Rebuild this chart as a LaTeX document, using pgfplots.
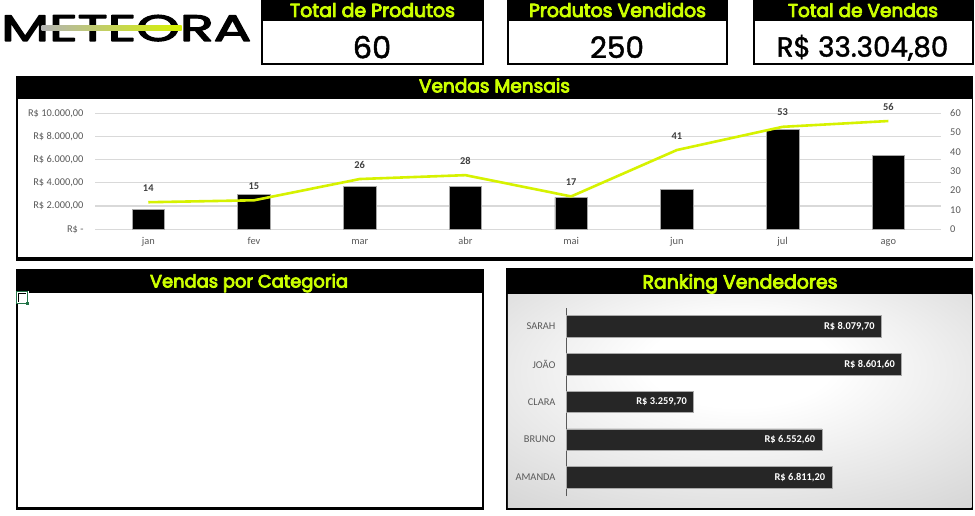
\documentclass[border=0pt]{standalone}
\usepackage{fontspec}
\setmainfont{Carlito}
\newfontfamily\pop{Poppins}
\newcommand\emb[2]{\special{pdf:literal direct #1 w 1 j 2 Tr}#2\special{pdf:literal direct 0 Tr}}
\usepackage{pgfplots}
\pgfplotsset{compat=1.18}
\definecolor{limetxt}{RGB}{204,255,0}
\definecolor{limeline}{RGB}{214,242,0}
\definecolor{tickgray}{RGB}{89,89,89}
\definecolor{gridgray}{RGB}{217,217,217}
\definecolor{lblgray}{RGB}{64,64,64}
\definecolor{rkbar}{RGB}{38,38,38}
\definecolor{rkedge}{RGB}{170,170,170}
\definecolor{rkmid}{RGB}{205,205,205}
\definecolor{rkout}{RGB}{178,178,178}
\definecolor{xlgreen}{RGB}{33,115,70}
\pgfdeclareradialshading{rk}{\pgfpoint{0bp}{10bp}}{color(0bp)=(white); color(10bp)=(white); color(45bp)=(rkmid); color(72bp)=(rkout)}
\newcommand\tlfont{\fontsize{10.4}{12}\selectfont}
\newcommand\hdr[1]{\color{limetxt}\pop\emb{0.45}{#1}}
\begin{document}
\begin{tikzpicture}[x=1pt,y=1pt]
\useasboundingbox (0,0) rectangle (975,516);
% ---------- logo
\node[anchor=base west, inner sep=0pt] at (1,475) {\resizebox{250pt}{26pt}{\pop\emb{0.3}{METEORA}}};
\shade[left color=gray!60, right color=limeline] (41.7,485.5) rectangle (181.7,490.5);
% ---------- KPI boxes
\foreach \xa/\xb in {261/483.7, 507/727.5, 753.3/973.5} {
  \fill[black] (\xa,451) rectangle (\xb,516);
  \fill[white] (\xa+1.5,453) rectangle (\xb-2,495.3);
}
\node[anchor=base, inner sep=0pt] at (372.5,499) {\resizebox{165pt}{!}{\hdr{Total de Produtos}}};
\node[anchor=base, inner sep=0pt] at (617.5,499) {\resizebox{177pt}{!}{\hdr{Produtos Vendidos}}};
\node[anchor=base, inner sep=0pt] at (863,499) {\resizebox{150pt}{!}{\hdr{Total de Vendas}}};
\node[anchor=base, inner sep=0pt] at (372,457.7) {\resizebox{38.3pt}{!}{\pop\emb{0.15}{60}}};
\node[anchor=base, inner sep=0pt] at (617,458) {\resizebox{54pt}{!}{\pop\emb{0.15}{250}}};
\node[anchor=base, inner sep=0pt] at (862.5,459.3) {\resizebox{171.6pt}{!}{\pop\emb{0.15}{R\$ 33.304,80}}};
% ---------- panel: Vendas Mensais
\fill[black] (16,255.3) rectangle (973.3,440);
\fill[white] (17.8,258.5) rectangle (971.5,417);
\node[anchor=base, inner sep=0pt] at (494.5,423.6) {\resizebox{151pt}{!}{\hdr{Vendas Mensais}}};
% ---------- panel: Vendas por Categoria
\fill[black] (16,6) rectangle (484.3,247);
\fill[white] (18,8.7) rectangle (481.7,222.7);
\node[anchor=base, inner sep=0pt] at (249,228.5) {\resizebox{198pt}{!}{\hdr{Vendas por Categoria}}};
\fill[white] (15.8,212) rectangle (28.5,224.5);
\draw[xlgreen, line width=0.8pt] (16.5,212.7) rectangle (27.7,224.3);
\draw[black, line width=0.8pt] (18.6,214) -- (18.6,222.2) -- (26,222.2);
\fill[xlgreen] (26.2,211.3) rectangle (28.8,213.9);
% ---------- panel: Ranking Vendedores
\fill[black] (505.8,6) rectangle (973.3,247.7);
\shade[shading=rk] (507.8,8) rectangle (971.7,221.7);
\node[anchor=base, inner sep=0pt] at (740,227.5) {\resizebox{195pt}{!}{\hdr{Ranking Vendedores}}};

% ---------- monthly bars (left axis)
\begin{axis}[at={(95.4pt,286.7pt)}, anchor=south west, scale only axis,
  width=845.8pt, height=116pt,
  xmin=-0.5, xmax=7.5, ymin=0, ymax=10000,
  scaled y ticks=false,
  axis line style={draw=none}, tick style={draw=none}, major tick length=0pt,
  ymajorgrids, grid style={gridgray, line width=1.2pt},
  xtick={0,...,7}, xticklabels={jan,fev,mar,abr,mai,jun,jul,ago},
  ytick={0,2000,4000,6000,8000,10000},
  yticklabels={{R\$ -},{R\$ 2.000,00},{R\$ 4.000,00},{R\$ 6.000,00},{R\$ 8.000,00},{R\$ 10.000,00}},
  ticklabel style={font=\tlfont, text=tickgray},
  yticklabel style={xshift=-8.4pt},
  xticklabel style={anchor=base, yshift=-15pt},
  ybar, bar width=32.4pt, clip=false]
\addplot[fill=black, draw=gray!70, line width=0.6pt] coordinates {
  (0,1710) (1,3015) (2,3700) (3,3700) (4,2760) (5,3440) (6,8630) (7,6350)};
\end{axis}
% ---------- monthly quantity (right axis)
\begin{axis}[at={(95.4pt,286.7pt)}, anchor=south west, scale only axis,
  width=845.8pt, height=116pt,
  xmin=-0.5, xmax=7.5, ymin=0, ymax=60,
  hide x axis, axis y line*=right,
  axis line style={draw=none}, tick style={draw=none}, major tick length=0pt,
  ytick={0,10,20,30,40,50,60}, yticklabels={0,10,20,30,40,50,60},
  ticklabel style={font=\tlfont, text=tickgray},
  yticklabel style={xshift=5.5pt}, clip=false]
\addplot[limeline, line width=2.6pt, line join=round, mark=none,
  nodes near coords, point meta=explicit symbolic,
  nodes near coords style={font=\bfseries\tlfont, text=lblgray, anchor=base, inner sep=0pt, yshift=11pt}]
  coordinates {(0,14)[14] (1,15)[15] (2,26)[26] (3,28)[28] (4,17)[17] (5,41)[41] (6,53)[53] (7,56)[56]};
\end{axis}
% ---------- ranking
\begin{axis}[at={(566.7pt,19.8pt)}, anchor=south west, scale only axis,
  width=389.5pt, height=188.6pt,
  xmin=0, xmax=10000, ymin=-0.5, ymax=4.5,
  xbar, bar width=21.6pt,
  hide x axis, axis y line*=left,
  y axis line style={draw=tickgray, line width=1.3pt},
  ytick={0,1,2,3,4}, yticklabels={AMANDA,BRUNO,CLARA,JOÃO,SARAH},
  ytick style={draw=none}, major tick length=0pt,
  yticklabel style={font=\tlfont, text=tickgray, xshift=-7.7pt},
  nodes near coords, point meta=explicit symbolic,
  every node near coord/.append style={font=\bfseries\tlfont, text=white, anchor=east, inner sep=0pt, xshift=-6.5pt},
  clip=false]
\addplot[fill=rkbar, draw=rkedge, line width=0.6pt] coordinates {
  (6811.2,0)[R\$ 6.811,20] (6552.6,1)[R\$ 6.552,60] (3259.7,2)[R\$ 3.259,70]
  (8601.6,3)[R\$ 8.601,60] (8079.7,4)[R\$ 8.079,70]};
\end{axis}
\end{tikzpicture}
\end{document}
